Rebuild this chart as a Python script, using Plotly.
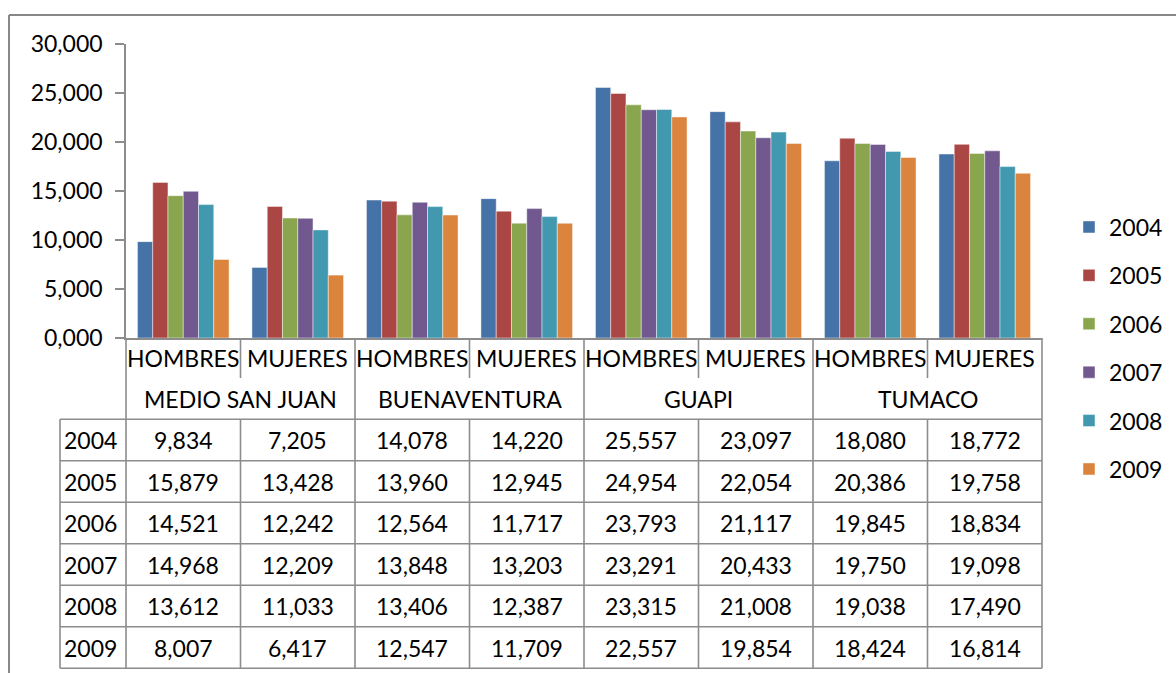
import plotly.graph_objects as go

# ---- data ----
groups = ["MEDIO SAN JUAN", "BUENAVENTURA", "GUAPI", "TUMACO"]
subs = ["HOMBRES", "MUJERES"]
years = ["2004", "2005", "2006", "2007", "2008", "2009"]
v2004 = [9.834, 7.205, 14.078, 14.220, 25.557, 23.097, 18.080, 18.772]
v2005 = [15.879, 13.428, 13.960, 12.945, 24.954, 22.054, 20.386, 19.758]
v2006 = [14.521, 12.242, 12.564, 11.717, 23.793, 21.117, 19.845, 18.834]
v2007 = [14.968, 12.209, 13.848, 13.203, 23.291, 20.433, 19.750, 19.098]
v2008 = [13.612, 11.033, 13.406, 12.387, 23.315, 21.008, 19.038, 17.490]
v2009 = [8.007, 6.417, 12.547, 11.709, 22.557, 19.854, 18.424, 16.814]
series = [v2004, v2005, v2006, v2007, v2008, v2009]
colors = ["#4572A7", "#AA4643", "#89A54E", "#71588F", "#4198AF", "#DB843D"]

# ---- layout geometry (pixels) ----
W, H = 1176, 673
L, R, T, B = 126, 1042, 44, 338
FONT = "Lato"
FS = 23
GRID = "#8c8c8c"

cats = [f"{g} {s}" for g in groups for s in subs]
ncat = len(cats)


def py(p):  # pixel y -> paper y
    return (B - p) / (B - T)


def pxp(p):  # pixel x -> paper x
    return (p - L) / (R - L)


def cx(i):  # category index (may be fractional) -> paper x
    return (i + 0.5) / ncat


fig = go.Figure()
for yr, vals, c in zip(years, series, colors):
    fig.add_trace(go.Bar(
        x=cats, y=vals, name=yr, legendgroup=yr,
        marker=dict(color=c, line=dict(color="rgba(255,255,255,0.45)", width=1)),
    ))

shapes = []
annotations = []


def hline(x0, x1, yp, w=1.6):
    shapes.append(dict(type="line", xref="paper", yref="paper", x0=x0, x1=x1,
                       y0=py(yp), y1=py(yp), line=dict(color=GRID, width=w)))


def vline(xx, y0p, y1p, w=1.6):
    shapes.append(dict(type="line", xref="paper", yref="paper", x0=xx, x1=xx,
                       y0=py(y0p), y1=py(y1p), line=dict(color=GRID, width=w)))


hdr1_bot = 378
hdr2_bot = 419.3
row_h = 41.5
nrows = len(years)
table_bot = hdr2_bot + nrows * row_h
left_col = pxp(60)

for g in range(len(groups) + 1):
    vline(cx(-0.5 + 2 * g), B, table_bot)
for g in range(len(groups)):
    xx = cx(0.5 + 2 * g)
    vline(xx, B, hdr1_bot)
    vline(xx, hdr2_bot, table_bot)
vline(left_col, hdr2_bot, table_bot)
for r in range(nrows + 1):
    hline(left_col, 1.0, hdr2_bot + r * row_h)

txtfont = dict(family=FONT, size=FS, color="#000")
for i, c in enumerate(cats):
    annotations.append(dict(x=cx(i), y=py((B + hdr1_bot) / 2), xref="paper", yref="paper",
                            xanchor="center", yanchor="middle",
                            text=subs[i % 2], showarrow=False, font=txtfont))
for g, gname in enumerate(groups):
    annotations.append(dict(x=cx(2 * g + 0.5), y=py((hdr1_bot + hdr2_bot) / 2),
                            xref="paper", yref="paper", xanchor="center", yanchor="middle",
                            text=gname, showarrow=False, font=txtfont))
for r, (yr, vals) in enumerate(zip(years, series)):
    yc = py(hdr2_bot + (r + 0.5) * row_h)
    annotations.append(dict(x=left_col, y=yc, xref="paper", yref="paper",
                            xanchor="left", yanchor="middle", xshift=2,
                            text=yr, showarrow=False, font=txtfont))
    for i, v in enumerate(vals):
        annotations.append(dict(x=cx(i), y=yc, xref="paper", yref="paper",
                                xanchor="center", yanchor="middle",
                                text=f"{v:.3f}".replace(".", ","), showarrow=False,
                                font=txtfont))

# outer chart border (top and left visible)
shapes.append(dict(type="line", xref="paper", yref="paper",
                   x0=pxp(9), x1=pxp(W + 5), y0=py(15), y1=py(15),
                   line=dict(color="#888888", width=2)))
shapes.append(dict(type="line", xref="paper", yref="paper",
                   x0=pxp(9), x1=pxp(9), y0=py(15), y1=py(H + 5),
                   line=dict(color="#888888", width=2)))

fig.update_layout(
    width=W, height=H,
    margin=dict(l=L, r=W - R, t=T, b=H - B, autoexpand=False),
    paper_bgcolor="white", plot_bgcolor="white",
    separators=",.",
    barmode="group", bargap=0.2, bargroupgap=0,
    font=dict(family=FONT, size=FS, color="#000"),
    showlegend=True,
    legend=dict(x=pxp(1069), xanchor="left", y=py(348), yanchor="middle",
                font=txtfont, tracegroupgap=15.5, bgcolor="rgba(0,0,0,0)"),
    shapes=shapes, annotations=annotations,
)
fig.update_xaxes(type="category", range=[-0.5, ncat - 0.5], showticklabels=False,
                 showgrid=False, showline=True, linecolor=GRID, linewidth=1.6,
                 ticks="", zeroline=False)
fig.update_yaxes(range=[0, 30], dtick=5, tickformat=".3f", showgrid=False,
                 showline=True, linecolor=GRID, linewidth=1.6, ticks="outside",
                 ticklen=9, tickcolor=GRID, tickwidth=1.6, zeroline=False,
                 ticklabelstandoff=8, tickfont=txtfont)

fig.write_html(
    "out.html", config={"displayModeBar": False},
    post_script=("document.body.style.margin='0px';"
                 "document.body.style.overflow='hidden';"
                 "document.documentElement.style.overflow='hidden';"),
)
